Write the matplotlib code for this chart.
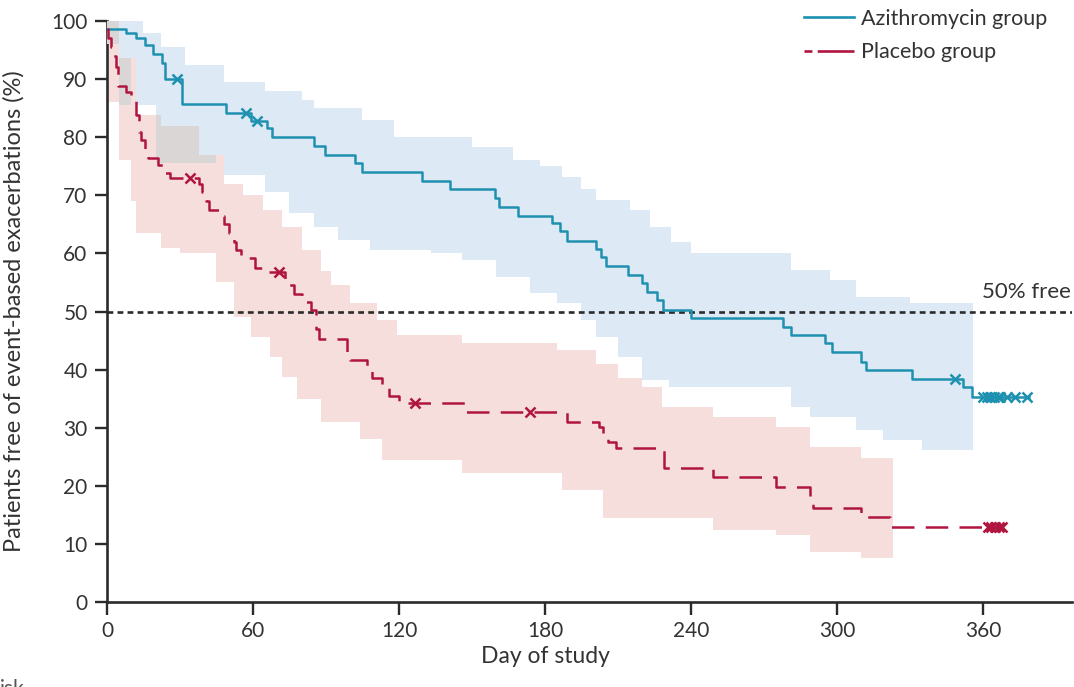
import numpy as np
import matplotlib
matplotlib.use("Agg")
import matplotlib.pyplot as plt
from matplotlib.lines import Line2D

plt.rcParams['font.family'] = ['Lato', 'DejaVu Sans']

# Kaplan-Meier curves (day, % free of event)
azi_days = [0, 8, 12, 15.6, 19, 22.5, 24, 31, 49, 59, 65.6, 68, 85, 89.6, 102, 105, 129.5, 141, 159.5, 161,
            169, 183, 186, 189, 201, 203, 205, 214, 220, 222, 226, 228.5, 240, 278, 281, 295, 298, 310, 312, 331,
            352, 355.5, 379]
azi_surv = [98.6, 97.9, 97.0, 95.9, 94.4, 92.7, 90.1, 85.8, 84.1, 82.8, 81.5, 80.1, 78.4, 76.9, 75.5, 74.0, 72.5, 71.0, 69.5, 68.0,
            66.4, 65.2, 63.8, 62.2, 60.8, 59.4, 57.8, 56.3, 54.9, 53.4, 52.0, 50.3, 48.9, 47.3, 46.0, 44.6, 43.0, 41.3, 39.9, 38.4,
            37.0, 35.3, 35.3]
azi_cens_days = [28.6, 57, 61.5, 348.5, 360, 361.5, 363, 364.5, 366, 367, 370, 373, 378]
azi_cens_surv = [90.1, 84.1, 82.8, 38.4, 35.3, 35.3, 35.3, 35.3, 35.3, 35.3, 35.3, 35.3, 35.3]

pla_days = [0, 0.5, 1.5, 2.5, 3.5, 4.5, 8, 10, 12, 13, 14, 15.5, 17, 21, 24, 26, 38, 39, 40.5, 42,
            46, 48, 50, 52, 53, 55, 61, 64, 73, 75, 77, 80, 84, 86, 87, 98.6, 100, 107, 109, 113,
            116, 120, 147, 189, 202, 204, 206, 209, 229, 249, 275, 289, 290, 310, 322, 368]
pla_surv = [98.6, 97.0, 95.5, 94.0, 92.0, 88.8, 87.8, 86.8, 83.8, 80.9, 79.5, 77.5, 76.4, 75.2, 73.8, 73.0, 72.0, 70.6, 69.0, 67.5,
            66.5, 65.0, 63.5, 62.0, 60.5, 59.2, 57.5, 56.8, 55.5, 54.5, 53.0, 51.6, 50.2, 47.0, 45.2, 43.0, 41.7, 40.4, 38.5, 37.3,
            35.5, 34.3, 32.7, 31.0, 30.1, 28.7, 27.5, 26.5, 23.0, 21.5, 19.8, 17.5, 16.2, 14.6, 12.9, 12.9]
pla_cens_days = [34, 70.5, 126.6, 174, 362, 363.5, 365, 366.5, 368]
pla_cens_surv = [73.0, 56.8, 34.3, 32.7, 12.9, 12.9, 12.9, 12.9, 12.9]

# 95% confidence bands
azi_up_days = [0, 15, 22, 32, 48, 65, 80, 85, 105, 118, 150, 167, 178, 187, 195, 201, 215, 223, 232, 240,
               281, 297, 308, 330, 356]
azi_up = [100, 98, 95.5, 92.5, 89.5, 88, 86.4, 85, 83, 80, 78.3, 76, 75, 73.2, 71, 69.2, 67.5, 64.5, 62, 60,
          57.1, 55.4, 52.5, 51.4, 51.4]
azi_lo_days = [0, 5, 20, 48, 65, 75, 85, 95, 108, 133, 146, 160, 174, 185, 195, 201, 210, 220, 231,
               281, 289, 308, 319, 335, 356]
azi_lo = [96, 85.5, 75.5, 73.5, 70.5, 67, 64.5, 62.3, 60.6, 60, 58.9, 56, 53.2, 51.5, 48.5, 45.6, 42.2, 38.2, 37.0,
          33.6, 31.8, 29.6, 27.9, 26.2, 26.2]
pla_up_days = [0, 5, 12, 22, 38, 48, 56, 64, 72, 80, 88, 92, 100, 111, 119, 146, 185, 201, 210, 220,
               228, 249, 275, 289, 310, 323]
pla_up = [100, 93.6, 83.8, 82, 77, 72, 70, 67.5, 64.5, 60.5, 57, 54.5, 51.5, 48.5, 46, 44.6, 43.4, 41, 38.5, 37,
          33.6, 31.8, 30.1, 26.7, 24.8, 24.8]
pla_lo_days = [0, 1, 5, 10, 12, 22, 30, 45, 52, 59, 67, 72, 78, 88, 104, 113, 146, 187, 204, 249,
               275, 289, 310, 323]
pla_lo = [96, 86, 76, 69, 63.5, 61, 60, 55, 49, 45.6, 42.2, 38.7, 35, 31, 28, 24.4, 22.2, 19.3, 14.5, 12.4,
          11.5, 8.6, 7.6, 7.6]

x_ticks = [0, 60, 120, 180, 240, 300, 360]
y_ticks = [0, 10, 20, 30, 40, 50, 60, 70, 80, 90, 100]

TEAL = '#1f91b0'
RED = '#b0153f'
INK = '#2b2b2b'


def step_at(days, vals, grid):
    idx = np.searchsorted(days, grid, side='right') - 1
    return np.asarray(vals)[idx]


def band(days_up, up, days_lo, lo):
    end = min(days_up[-1], days_lo[-1])
    grid = np.unique(np.concatenate([days_up, days_lo]))
    grid = grid[grid <= end]
    return grid, step_at(days_up, up, grid), step_at(days_lo, lo, grid)


fig = plt.figure(figsize=(10.74, 6.87), dpi=100)
ax = fig.add_axes([107 / 1074, 85 / 687, 965 / 1074, 581 / 687])

ga, ua, la = band(azi_up_days, azi_up, azi_lo_days, azi_lo)
gp, up_, lp = band(pla_up_days, pla_up, pla_lo_days, pla_lo)
ax.fill_between(ga, la, ua, step='post', color='#dde9f5', lw=0, zorder=1)
ax.fill_between(gp, lp, up_, step='post', color='#f6dedc', lw=0, zorder=2)

# where the two bands overlap
end = min(ga[-1], gp[-1])
g = np.unique(np.concatenate([ga, gp]))
g = g[g <= end]
hi = np.minimum(step_at(azi_up_days, azi_up, g), step_at(pla_up_days, pla_up, g))
lo = np.maximum(step_at(azi_lo_days, azi_lo, g), step_at(pla_lo_days, pla_lo, g))
ax.fill_between(g, lo, hi, where=hi > lo, step='post', color='#dbd6d6', lw=0, zorder=3)

ax.axhline(50, color=INK, lw=1.9, dashes=(2.2, 1.6), zorder=4)
ax.text(396, 51.6, '50% free', ha='right', va='bottom', fontsize=16, color='#333')

ax.step(azi_days, azi_surv, where='post', color=TEAL, lw=1.8, zorder=6)
ax.plot(azi_cens_days, azi_cens_surv, ls='none', marker='x', ms=6.5, mew=1.8, color=TEAL, zorder=7)
ax.step(pla_days, pla_surv, where='post', color=RED, lw=1.8, dashes=(9, 4.5), zorder=6)
ax.plot(pla_cens_days, pla_cens_surv, ls='none', marker='x', ms=6.5, mew=1.8, color=RED, zorder=7)

ax.set_xlim(0, 396.6)
ax.set_ylim(0, 100)
ax.set_xticks(x_ticks)
ax.set_yticks(y_ticks)
for s in ['top', 'right']:
    ax.spines[s].set_visible(False)
for s in ['left', 'bottom']:
    ax.spines[s].set_color(INK)
    ax.spines[s].set_linewidth(1.9)
ax.tick_params(length=9, width=1.7, color=INK, labelsize=15, labelcolor='#333', pad=5)

ax.set_xlabel('Day of study', fontsize=16.5, color='#333')
ax.xaxis.set_label_coords(180 / 396.6, -0.075)
ax.set_ylabel('Patients free of event-based exacerbations (%)', fontsize=17, color='#333')
ax.yaxis.set_label_coords(-0.085, 0.5)

handles = [Line2D([], [], color=TEAL, lw=1.9),
           Line2D([], [], color=RED, lw=1.9, dashes=(3, 2, 12, 0))]
ax.legend(handles, ['Azithromycin group', 'Placebo group'], loc='upper left',
          bbox_to_anchor=(804 / 1074, 1 - 9 / 687), bbox_transform=fig.transFigure,
          frameon=False, fontsize=15.5, handlelength=2.3, handletextpad=0.35,
          labelspacing=0.62, borderpad=0, borderaxespad=0, labelcolor='#333')

# cut-off caption remnant at the bottom edge
fig.text(0.0, -0.018, 'isk', fontsize=15, color='#555', ha='left', va='bottom')

fig.savefig('out.png', dpi=100)
